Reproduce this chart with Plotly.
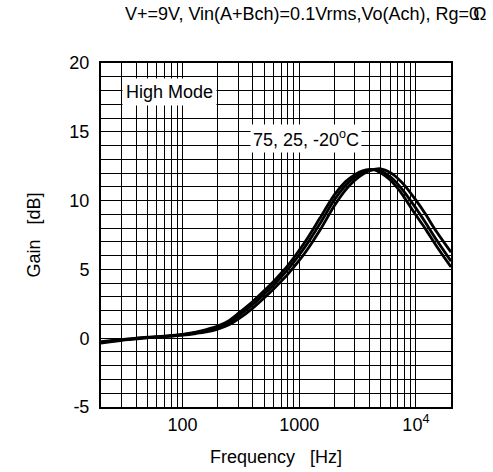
import math
import plotly.graph_objects as go

# ---- data ----
freq_hz = [20, 30, 40, 50, 70, 100, 130, 160, 200, 250, 300, 400, 500, 600, 700, 800,
           1000, 1200, 1500, 2000, 2500, 3000, 3500, 4000, 4500, 5000, 6000, 7000, 8000,
           10000, 12000, 15000, 20000]
gain_75 = [-0.25, -0.09, 0.0, 0.07, 0.15, 0.28, 0.45, 0.63, 0.88, 1.28, 1.8, 2.67, 3.44, 4.1,
           4.72, 5.29, 6.39, 7.38, 8.71, 10.42, 11.38, 11.89, 12.17, 12.27, 12.22, 12.02,
           11.52, 10.88, 10.2, 8.95, 7.98, 6.7, 5.17]
gain_25 = [-0.3, -0.12, -0.02, 0.05, 0.13, 0.25, 0.4, 0.55, 0.78, 1.13, 1.6, 2.45, 3.2,
           3.85, 4.45, 5.0, 6.05, 7.0, 8.3, 10.05, 11.1, 11.7, 12.05, 12.22, 12.25, 12.15,
           11.75, 11.2, 10.6, 9.45, 8.45, 7.15, 5.6]
gain_m20 = [-0.35, -0.15, -0.05, 0.03, 0.11, 0.22, 0.34, 0.46, 0.66, 0.97, 1.38, 2.19, 2.92,
            3.56, 4.13, 4.66, 5.65, 6.56, 7.82, 9.62, 10.78, 11.48, 11.91, 12.17, 12.29,
            12.31, 12.05, 11.61, 11.11, 10.03, 9.06, 7.75, 6.25]

x_grid = [20, 30, 40, 50, 60, 70, 80, 90, 100, 200, 300, 400, 500, 600, 700, 800, 900,
          1000, 2000, 3000, 4000, 5000, 6000, 7000, 8000, 9000, 10000, 20000]
x_labels = {100: "100", 1000: "1000", 10000: "10<sup>4</sup>"}
y_grid = list(range(-5, 21))
y_labels = {-5: "-5", 0: "0", 5: "5", 10: "10", 15: "15", 20: "20"}

title_text = "V+=9V, Vin(A+Bch)=0.1Vrms,Vo(Ach), Rg=0"
title_tail = "Ω"

FONT = "Liberation Sans, Arial, sans-serif"

fig = go.Figure()
for g in (gain_75, gain_25, gain_m20):
    fig.add_trace(go.Scatter(x=freq_hz, y=g, mode="lines",
                             line=dict(color="black", width=2.8, shape="spline", smoothing=0.8),
                             showlegend=False, hoverinfo="skip"))

fig.update_layout(
    width=493, height=472,
    margin=dict(l=101, r=42, t=63, b=65),
    paper_bgcolor="white", plot_bgcolor="white",
    font=dict(family=FONT, size=18, color="black"),
    showlegend=False,
)
fig.update_xaxes(
    type="log", range=[math.log10(20), math.log10(20000)],
    tickmode="array", tickvals=x_grid,
    ticktext=[x_labels.get(v, "") for v in x_grid],
    ticks="", showgrid=True, gridcolor="black", gridwidth=1,
    showline=True, linecolor="black", linewidth=2, mirror=True,
    zeroline=False, automargin=False,
    title=dict(text="Frequency\u00a0\u00a0\u00a0[Hz]", standoff=17,
               font=dict(size=18)),
    tickfont=dict(size=18),
)
fig.update_yaxes(
    range=[-5, 20],
    tickmode="array", tickvals=y_grid,
    ticktext=[y_labels.get(v, "") for v in y_grid],
    ticks="", ticklabelstandoff=6, showgrid=True, gridcolor="black", gridwidth=1,
    showline=True, linecolor="black", linewidth=2, mirror=True,
    zeroline=False, automargin=False,
    title=dict(text="Gain\u00a0\u00a0\u00a0[dB]", standoff=24, font=dict(size=18)),
    tickfont=dict(size=18),
)

fig.add_annotation(x=math.log10(77), y=17.9, xref="x", yref="y",
                   text="High Mode", showarrow=False, bgcolor="white",
                   borderpad=3, font=dict(size=18))
fig.add_annotation(x=math.log10(1142), y=14.5, xref="x", yref="y",
                   text="75, 25, -20<sup>o</sup>C", showarrow=False, bgcolor="white",
                   borderpad=2, font=dict(size=18))

fig.add_annotation(x=(481 - 101) / 350, y=1 + (63 - 13.5) / 344, xref="paper", yref="paper",
                   xanchor="right", yanchor="middle", text=title_text, showarrow=False,
                   font=dict(size=18))
fig.add_annotation(x=(471 - 101) / 350, y=1 + (63 - 13.5) / 344, xref="paper", yref="paper",
                   xanchor="left", yanchor="middle", text=title_tail, showarrow=False,
                   font=dict(size=18))

fig.write_html("out.html")
